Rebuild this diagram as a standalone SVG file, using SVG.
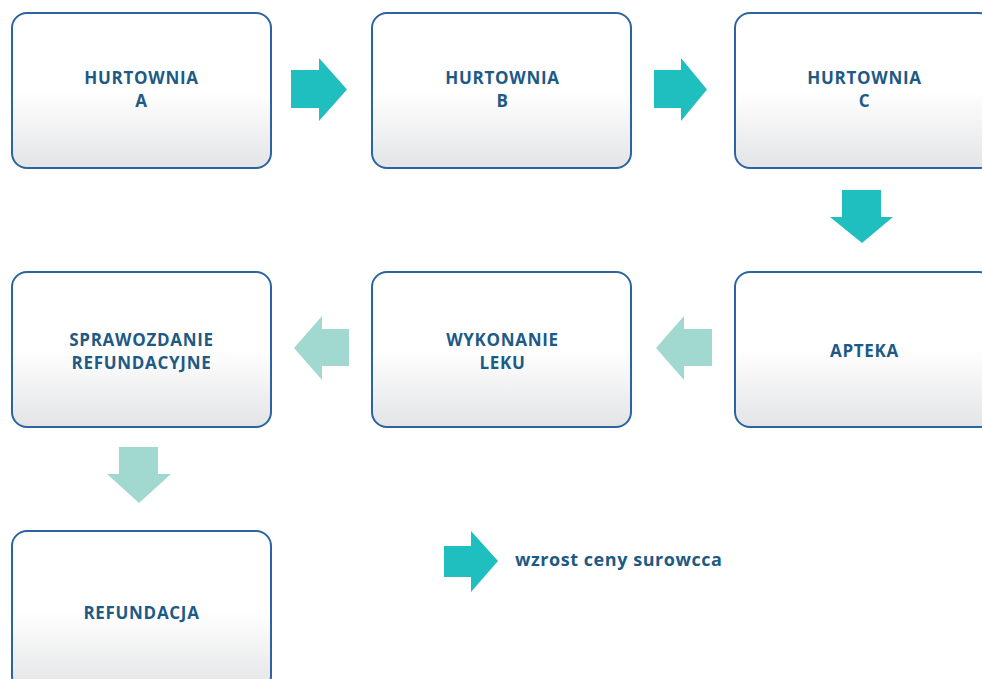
<svg xmlns="http://www.w3.org/2000/svg" width="982" height="679" viewBox="0 0 982 679">
<defs>
<linearGradient id="g" x1="0" y1="0" x2="0" y2="1">
<stop offset="0" stop-color="#ffffff"/>
<stop offset="0.5" stop-color="#ffffff"/>
<stop offset="1" stop-color="#e3e4e6"/>
</linearGradient>
</defs>
<style>
.box{fill:url(#g);stroke:#2b64a0;stroke-width:2}
.t{font-family:"Open Sans","Liberation Sans",sans-serif;font-weight:bold;font-size:17px;letter-spacing:0.7px;fill:#1d5a85;text-anchor:middle}
.dark{fill:#1fbfbf}
.light{fill:#a1d9d1}
.leg{font-family:"Open Sans","Liberation Sans",sans-serif;font-weight:bold;font-size:18px;letter-spacing:0.55px;fill:#1d5a85}
</style>
<rect width="982" height="679" fill="#ffffff"/>
<g id="hurtA"><rect class="box" x="12" y="13" width="259" height="155" rx="15"/><text class="t" x="141.5" y="83.5">HURTOWNIA</text><text class="t" x="141.5" y="106.5">A</text></g>
<g id="hurtB"><rect class="box" x="372" y="13" width="259" height="155" rx="15"/><text class="t" x="502.5" y="83.5">HURTOWNIA</text><text class="t" x="502.5" y="106.5">B</text></g>
<g id="hurtC"><rect class="box" x="735" y="13" width="259" height="155" rx="15"/><text class="t" x="864.5" y="83.5">HURTOWNIA</text><text class="t" x="864.5" y="106.5">C</text></g>
<g id="apteka"><rect class="box" x="735" y="272" width="259" height="155" rx="15"/><text class="t" x="864.5" y="357">APTEKA</text></g>
<g id="wykonanie"><rect class="box" x="372" y="272" width="259" height="155" rx="15"/><text class="t" x="502.5" y="345.5">WYKONANIE</text><text class="t" x="502.5" y="368.5">LEKU</text></g>
<g id="sprawozdanie"><rect class="box" x="12" y="272" width="259" height="155" rx="15"/><text class="t" x="141.5" y="345.5">SPRAWOZDANIE</text><text class="t" x="141.5" y="368.5">REFUNDACYJNE</text></g>
<g id="refundacja"><rect class="box" x="12" y="531" width="259" height="160" rx="15"/><text class="t" x="141.5" y="618.5">REFUNDACJA</text></g>
<g id="connectors">
<polygon class="dark" points="291,70 319,70 319,58 347,89.5 319,121 319,108 291,108"/>
<polygon class="dark" points="654,70 681,70 681,58 707,89.5 681,121 681,108 654,108"/>
<polygon class="dark" points="842,190 881,190 881,217 893,217 862,243 830,217 842,217"/>
<polygon class="light" points="349,329 322,329 322,316 294,348 322,380 322,366 349,366"/>
<polygon class="light" points="712,329 684,329 684,316 656,348 684,380 684,366 712,366"/>
<polygon class="light" points="119,447 158,447 158,474 171,474 139,503 107,474 119,474"/>
</g>
<g id="legend">
<polygon class="dark" points="444,546 471,546 471,531 498,561 471,592 471,577 444,577"/>
<text class="leg" x="515" y="566">wzrost ceny surowcca</text>
</g>
</svg>
